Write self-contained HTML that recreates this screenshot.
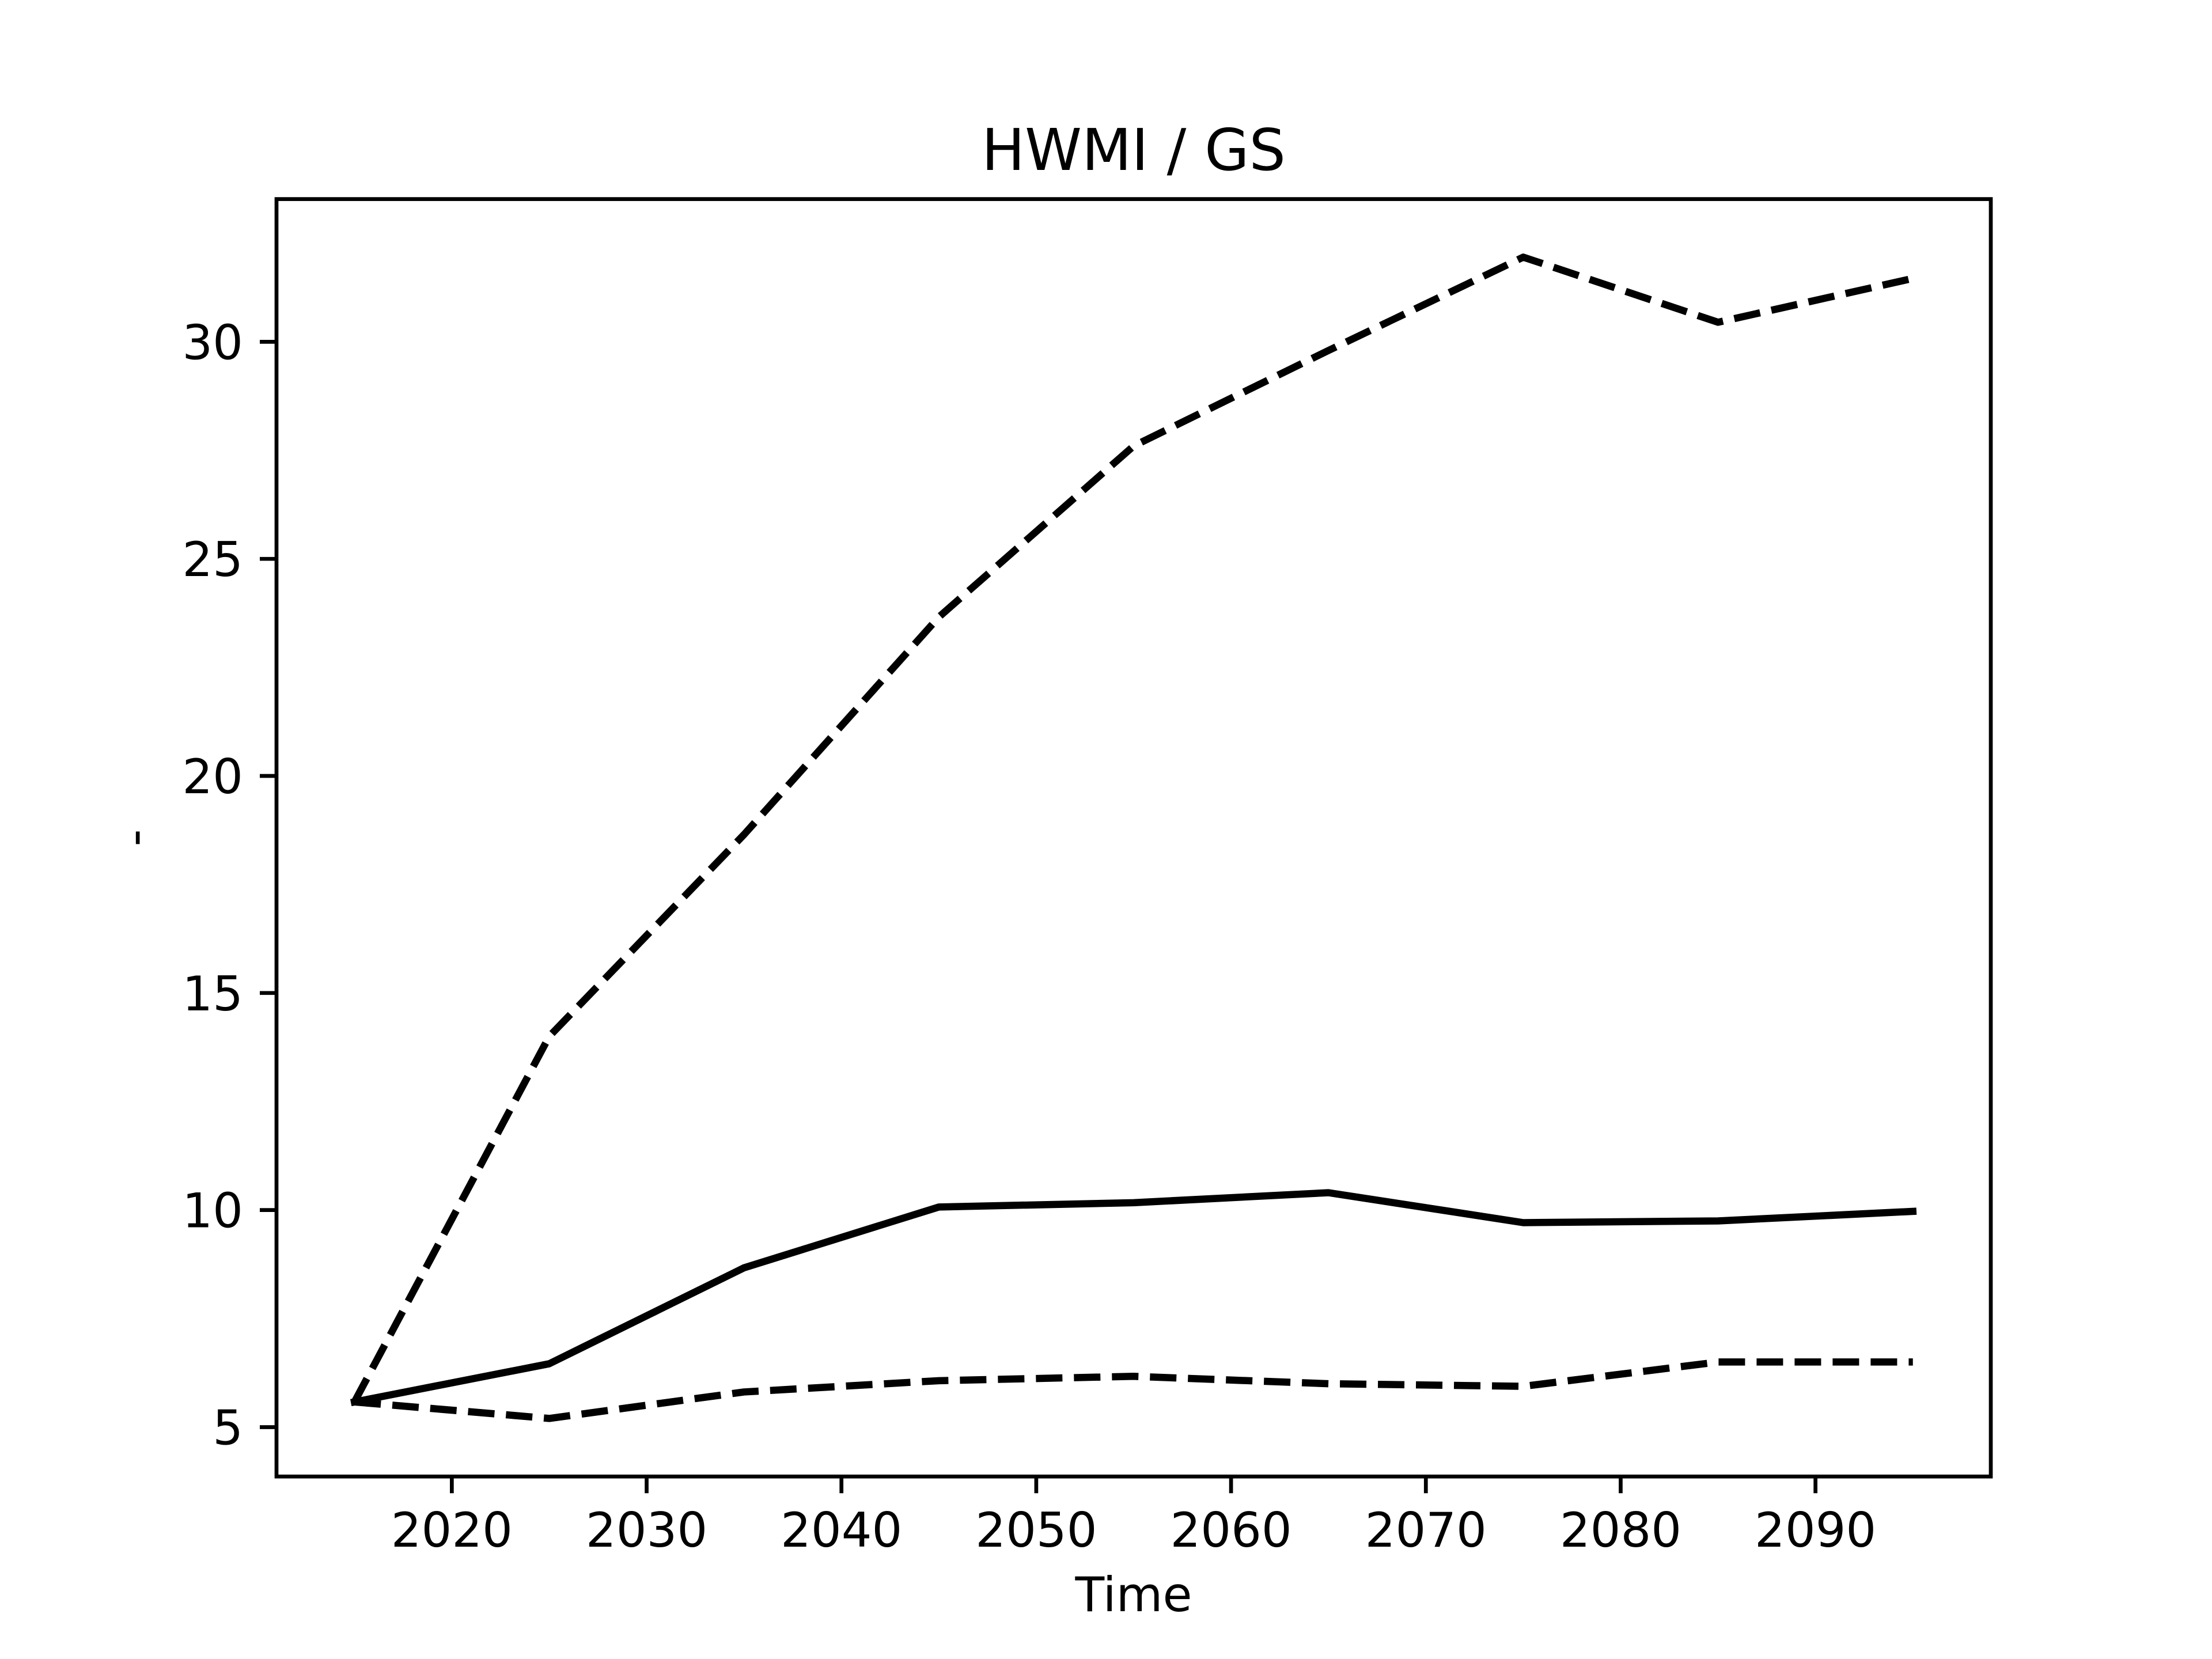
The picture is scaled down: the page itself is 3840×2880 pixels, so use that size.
<!DOCTYPE html>
<html><head><meta charset="utf-8"><style>
html,body{margin:0;padding:0;background:#fff;}
svg{display:block;font-family:"DejaVu Sans","Liberation Sans",sans-serif;}
</style></head><body>
<svg id="chart" width="3840" height="2880" viewBox="0 0 3840 2880" xmlns="http://www.w3.org/2000/svg">
<rect width="3840" height="2880" fill="#fff"/>
<g id="plot"></g>
</svg>
<script>
const years = [2015,2025,2035,2045,2055,2065,2075,2085,2095];
const upperValues = [5.58,14.0,18.65,23.66,27.6,29.8,31.95,30.45,31.46];
const meanValues = [5.58,6.46,8.67,10.07,10.17,10.4,9.71,9.75,9.97];
const lowerValues = [5.58,5.2,5.81,6.07,6.17,6.0,5.94,6.5,6.5];
const xTicks = [2020,2030,2040,2050,2060,2070,2080,2090];
const yTicks = [5,10,15,20,25,30];

const NS="http://www.w3.org/2000/svg";
const L=480,R=3456,T=345.6,B=2563.2;
const xmin=2011,xmax=2099;
const allV=upperValues.concat(meanValues,lowerValues);
const vmin=Math.min(...allV),vmax=Math.max(...allV),pad=(vmax-vmin)*0.05;
const ymin=vmin-pad,ymax=vmax+pad;
const sx=v=>L+(v-xmin)/(xmax-xmin)*(R-L);
const sy=v=>B-(v-ymin)/(ymax-ymin)*(B-T);
const g=document.getElementById('plot');
function mk(tag,attrs){const e=document.createElementNS(NS,tag);for(const k in attrs)e.setAttribute(k,attrs[k]);g.appendChild(e);return e;}

function series(vals,name,dash){
  const e=mk('polyline',{points:years.map((y,i)=>sx(y)+','+sy(vals[i])).join(' '),fill:'none',stroke:'#000','stroke-width':12.5,'stroke-linejoin':'round','stroke-linecap':dash?'butt':'square'});
  if(dash)e.setAttribute('stroke-dasharray','46 20');
  
  
}
series(upperValues,'upper-bound-line',true);
series(meanValues,'mean-line',false);
series(lowerValues,'lower-bound-line',true);

const frame=mk('rect',{x:L,y:T,width:R-L,height:B-T,fill:'none',stroke:'#000','stroke-width':6.7});



xTicks.forEach(t=>{
  const x=sx(t);
  const tk=mk('line',{x1:x,x2:x,y1:B,y2:B+29,stroke:'#000','stroke-width':6.7});
  
  
  const tx=mk('text',{x:x,y:B+29+29+64,'font-size':83,'text-anchor':'middle',fill:'#000'});
  tx.textContent=t;
  
  
});
yTicks.forEach(t=>{
  const y=sy(t);
  const tk=mk('line',{x1:L-29,x2:L,y1:y,y2:y,stroke:'#000','stroke-width':6.7});
  
  
  const tx=mk('text',{x:L-29-29,y:y+30,'font-size':83,'text-anchor':'end',fill:'#000'});
  tx.textContent=t;
  
  
});
const title=mk('text',{x:(L+R)/2,y:295,'font-size':100,'text-anchor':'middle',fill:'#000'});
title.textContent='HWMI / GS';


const xl=mk('text',{x:(L+R)/2,y:2797,'font-size':83,'text-anchor':'middle',fill:'#000'});
xl.textContent='Time';


const yl=mk('text',{x:0,y:0,'font-size':83,'text-anchor':'middle',fill:'#000',transform:'translate(262,'+((T+B)/2)+') rotate(-90)'});
yl.textContent='-';


</script>
</body></html>
